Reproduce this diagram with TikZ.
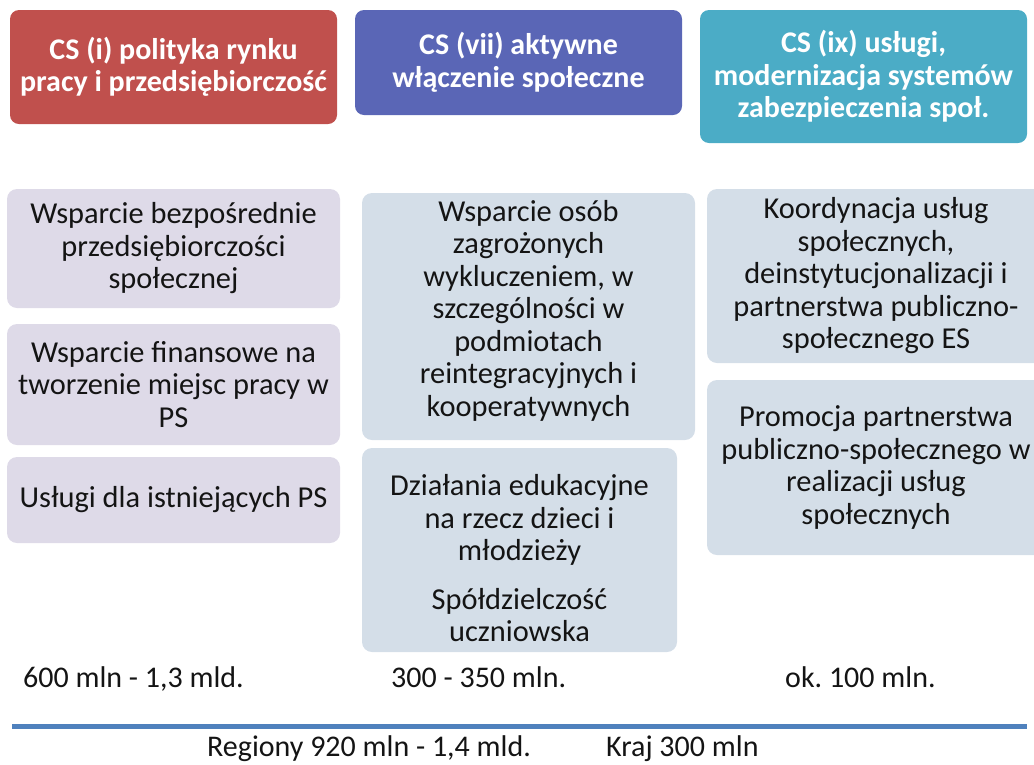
\documentclass[tikz,border=0pt]{standalone}
\usepackage{fontspec}
\setmainfont{Carlito}
\definecolor{hred}{RGB}{192,80,77}
\definecolor{hblue}{RGB}{90,102,182}
\definecolor{hteal}{RGB}{75,172,198}
\definecolor{lav}{RGB}{222,218,232}
\definecolor{lblue}{RGB}{212,222,232}
\definecolor{rule}{RGB}{79,129,189}
\definecolor{txt}{RGB}{20,20,20}
\begin{document}
\frenchspacing
\begin{tikzpicture}[x=1pt,y=-1pt,
  hdr/.style={rounded corners=9pt, text=white, align=center, inner sep=0pt,
    font=\bfseries\fontsize{30}{32.5}\selectfont},
  itembox/.style={rounded corners=10pt, align=center, inner sep=0pt, text=txt,
    font=\fontsize{30.4}{32.5}\selectfont},
  amount/.style={anchor=base west, inner sep=0pt, text=txt,
    font=\fontsize{30}{33}\selectfont}]
\useasboundingbox (0,0) rectangle (1034,764);
\clip (0,0) rectangle (1034,764);
% headers
\node[hdr, fill=hred, minimum width=327pt, minimum height=114pt] (h1) at (173.5,67)
  {CS (i) polityka rynku\\pracy i przedsiębiorczość};
\node[hdr, fill=hblue, minimum width=327pt, minimum height=105pt] (h2) at (518.5,62.5)
  {CS (vii) aktywne\\włączenie społeczne};
\node[hdr, fill=hteal, minimum width=327pt, minimum height=133pt] (h3) at (863.5,76.5)
  {CS (ix) usługi,\\modernizacja systemów\\zabezpieczenia społ.};
% left column
\node[itembox, fill=lav, minimum width=333pt, minimum height=119pt] (l1) at (173.5,248.5)
  {Wsparcie bezpośrednie\\przedsiębiorczości\\społecznej};
\node[itembox, fill=lav, minimum width=333pt, minimum height=121pt] (l2) at (173.5,384.5)
  {Wsparcie finansowe na\\tworzenie miejsc pracy w\\PS};
\node[itembox, fill=lav, minimum width=333pt, minimum height=86pt] (l3) at (173.5,500)
  {Usługi dla istniejących PS};
% middle column
\node[itembox, fill=lblue, minimum width=333pt, minimum height=247pt] (m1) at (528.5,316.5)
  {Wsparcie osób\\zagrożonych\\wykluczeniem, w\\szczególności w\\podmiotach\\reintegracyjnych i\\kooperatywnych\rule[-17pt]{0pt}{0pt}};
\node[itembox, fill=lblue, minimum width=315pt, minimum height=204pt] (m2) at (519.5,550)
  {\rule{0pt}{38pt}Działania edukacyjne\\na rzecz dzieci i\\młodzieży\\[16pt]Spółdzielczość\\uczniowska};
% right column
\node[itembox, fill=lblue, minimum width=338pt, minimum height=174pt] (r1) at (876,276)
  {Koordynacja usług\\społecznych,\\deinstytucjonalizacji i\\partnerstwa publiczno-\\społecznego ES};
\node[itembox, fill=lblue, minimum width=338pt, minimum height=175pt] (r2) at (876,467.5)
  {Promocja partnerstwa\\publiczno-społecznego w\\realizacji usług\\społecznych};
% amounts
\node[amount] (a1) at (23,687) {600 mln - 1,3 mld.};
\node[amount] (a2) at (391,687) {300 - 350 mln.};
\node[amount] (a3) at (785,687) {ok. 100 mln.};
% rule
\coordinate (rl) at (12,726);
\coordinate (rr) at (1027,726);
\draw[rule, line width=5pt] (rl) -- (rr);
\node[amount] (b1) at (207,756) {Regiony 920 mln - 1,4 mld.};
\node[amount] (b2) at (606,756) {Kraj 300 mln};
\end{tikzpicture}
\end{document}
